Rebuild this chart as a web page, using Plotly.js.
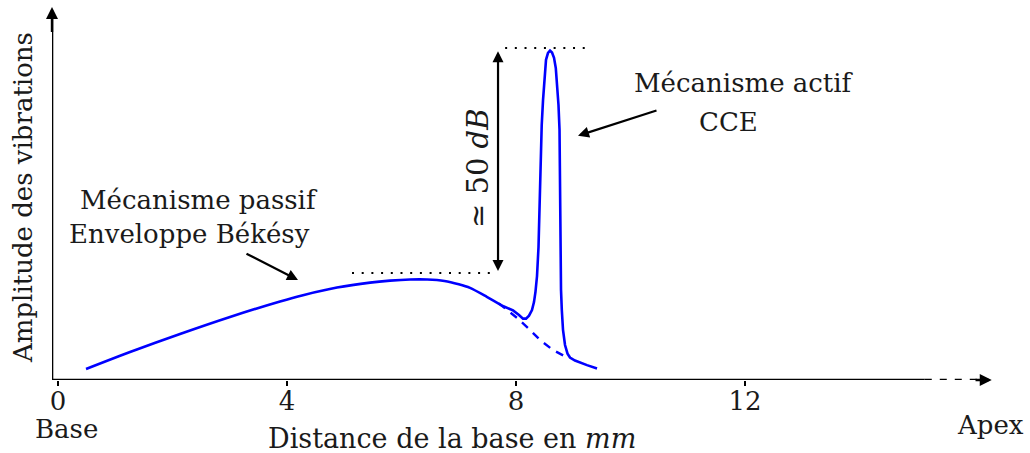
<!DOCTYPE html>
<html>
<head>
<meta charset="utf-8">
<script src="https://cdn.plot.ly/plotly-3.0.1.min.js"></script>
<style>html,body{margin:0;padding:0;background:#fff;}#chart{width:1030px;height:453px;}</style>
</head>
<body>
<div id="chart"></div>
<script>
// Distance from base (mm) and vibration amplitude (arbitrary units)
// passive (Békésy envelope) part, smooth
const passiveX = [0.489, 1.258, 2.131, 3.004, 3.878, 4.279, 4.873, 5.45, 5.80, 6.149, 6.45, 6.75, 7.0, 7.197, 7.49, 7.77];
const passiveY = [3.33, 8.48, 13.94, 19.09, 23.8, 25.7, 28.0, 29.5, 30.1, 30.45, 30.45, 30.0, 29.0, 27.9, 25.2, 22.4];
// active (CCE) part, continuing from the passive one
const activeX = [7.77, 7.948, 8.052, 8.122, 8.175, 8.227, 8.279, 8.314, 8.34, 8.367, 8.393, 8.41, 8.428, 8.449, 8.472, 8.498, 8.524, 8.559, 8.594, 8.629, 8.664, 8.695, 8.72, 8.742, 8.76, 8.769, 8.777, 8.786, 8.80, 8.821, 8.856, 8.90, 8.943, 9.03, 9.24, 9.415];
const activeY = [22.4, 21.1, 19.7, 18.6, 18.6, 19.5, 21.2, 23.6, 26.7, 31.5, 40.3, 54.5, 66.7, 77.3, 84.8, 92.4, 97.0, 99.1, 99.8, 99.2, 97.6, 94.5, 89.4, 83.3, 75.8, 55.5, 39.4, 27.3, 21.2, 15.2, 10.6, 8.0, 6.8, 5.9, 4.5, 3.5];
// passive envelope alone beyond the active peak (dashed)
const passiveTailX = [7.70, 8.02, 8.245, 8.42, 8.646, 8.908];
const passiveTailY = [23.2, 18.8, 15.15, 12.12, 9.09, 6.67];
const tickVals = [0, 4, 8, 12];
const tickText = ['0', '4', '8', '12'];
const lowLevel = 32.4;   // passive peak level
const highLevel = 100.6; // active peak level
const texts = {
  passive1: 'Mécanisme passif', passive2: 'Enveloppe Békésy',
  active1: 'Mécanisme actif', active2: 'CCE',
  gain: '≃ 50 <i>dB</i>',
  xTitle: 'Distance de la base en <i>mm</i>', yTitle: 'Amplitude des vibrations',
  base: 'Base', apex: 'Apex'
};

const FONT = 'DejaVu Serif, Liberation Serif, serif';
const TXT = '#1a1a1a';
const fs = 26;

const traces = [
  {x: passiveX, y: passiveY, mode: 'lines', line: {color: '#0000ff', width: 2.6, shape: 'spline', smoothing: 0.8}, hoverinfo: 'skip', showlegend: false},
  {x: activeX, y: activeY, mode: 'lines', line: {color: '#0000ff', width: 2.6, shape: 'linear'}, hoverinfo: 'skip', showlegend: false},
  {x: passiveTailX, y: passiveTailY, mode: 'lines', line: {color: '#0000ff', width: 2.4, dash: '8px,7px'}, hoverinfo: 'skip', showlegend: false}
];

const xmin = -0.105, xmax = 16.454;
const shapes = [
  {type: 'line', xref: 'x', yref: 'y', x0: xmin, x1: 15.14, y0: 0, y1: 0, line: {color: '#000', width: 2.6}},
  {type: 'line', xref: 'x', yref: 'y', x0: 15.14, x1: 16.05, y0: 0, y1: 0, line: {color: '#000', width: 2.6, dash: '7px,8px'}},
  {type: 'line', xref: 'x', yref: 'y', x0: xmin, x1: xmin, y0: 0, y1: 110, line: {color: '#000', width: 2.6}},
  {type: 'line', xref: 'x', yref: 'y', x0: 5.135, x1: 7.668, y0: lowLevel, y1: lowLevel, line: {color: '#000', width: 2, dash: '2px,7.7px'}},
  {type: 'line', xref: 'x', yref: 'y', x0: 7.81, x1: 9.33, y0: highLevel, y1: highLevel, line: {color: '#000', width: 2, dash: '2px,7.7px'}}
];

function arrow(x, y, ax, ay, opts) {
  return Object.assign({x: x, y: y, ax: ax, ay: ay, xref: 'x', yref: 'y', axref: 'x', ayref: 'y', text: '', showarrow: true,
    arrowhead: 2, arrowsize: 1, arrowwidth: 2.2, arrowcolor: '#000', standoff: 0, startstandoff: 0}, opts || {});
}
function label(x, y, text, opts) {
  return Object.assign({x: x, y: y, xref: 'x', yref: 'y', text: text, showarrow: false,
    font: {family: FONT, size: fs, color: TXT}, xanchor: 'center', yanchor: 'middle'}, opts || {});
}

const annotations = [
  arrow(16.31, 0, 16.0, 0, {arrowwidth: 2.4}),
  arrow(xmin, 113.0, xmin, 105, {arrowwidth: 2.4}),
  arrow(7.686, highLevel - 1.0, 7.686, lowLevel + 0.2, {arrowside: 'end+start'}),
  arrow(9.083, 74.0, 10.48, 81.8),
  arrow(4.192, 30.3, 3.266, 38.5),
  label(2.463, 54.4, texts.passive1),
  label(2.288, 44.2, texts.passive2),
  label(11.98, 90.0, texts.active1),
  label(11.71, 78.3, texts.active2),
  label(7.336, 64.2, texts.gain, {textangle: -90, font: {family: FONT, size: 29, color: TXT}}),
  label(0.14, -0.131, texts.base, {yref: 'paper'}),
  label(16.28, -0.12, texts.apex, {yref: 'paper'}),
  label(6.88, -0.155, texts.xTitle, {yref: 'paper', font: {family: FONT, size: 27, color: TXT}}),
  label(-0.0306, 0.488, texts.yTitle, {xref: 'paper', yref: 'paper', textangle: -90})
];

const layout = {
  width: 1030, height: 453,
  margin: {l: 52, r: 30, t: 5, b: 73},
  paper_bgcolor: '#fff', plot_bgcolor: '#fff',
  showlegend: false,
  xaxis: {range: [xmin, xmax], showgrid: false, zeroline: false, showline: false,
    tickmode: 'array', tickvals: tickVals, ticktext: tickText, ticks: 'outside', ticklen: 5, tickwidth: 1.6, tickcolor: '#000',
    ticklabelstandoff: -7,
    tickfont: {family: FONT, size: fs, color: TXT}, fixedrange: true},
  yaxis: {range: [0, 113.6], visible: false, fixedrange: true},
  shapes: shapes,
  annotations: annotations
};

Plotly.newPlot('chart', traces, layout, {displayModeBar: false, staticPlot: true});
</script>
</body>
</html>
